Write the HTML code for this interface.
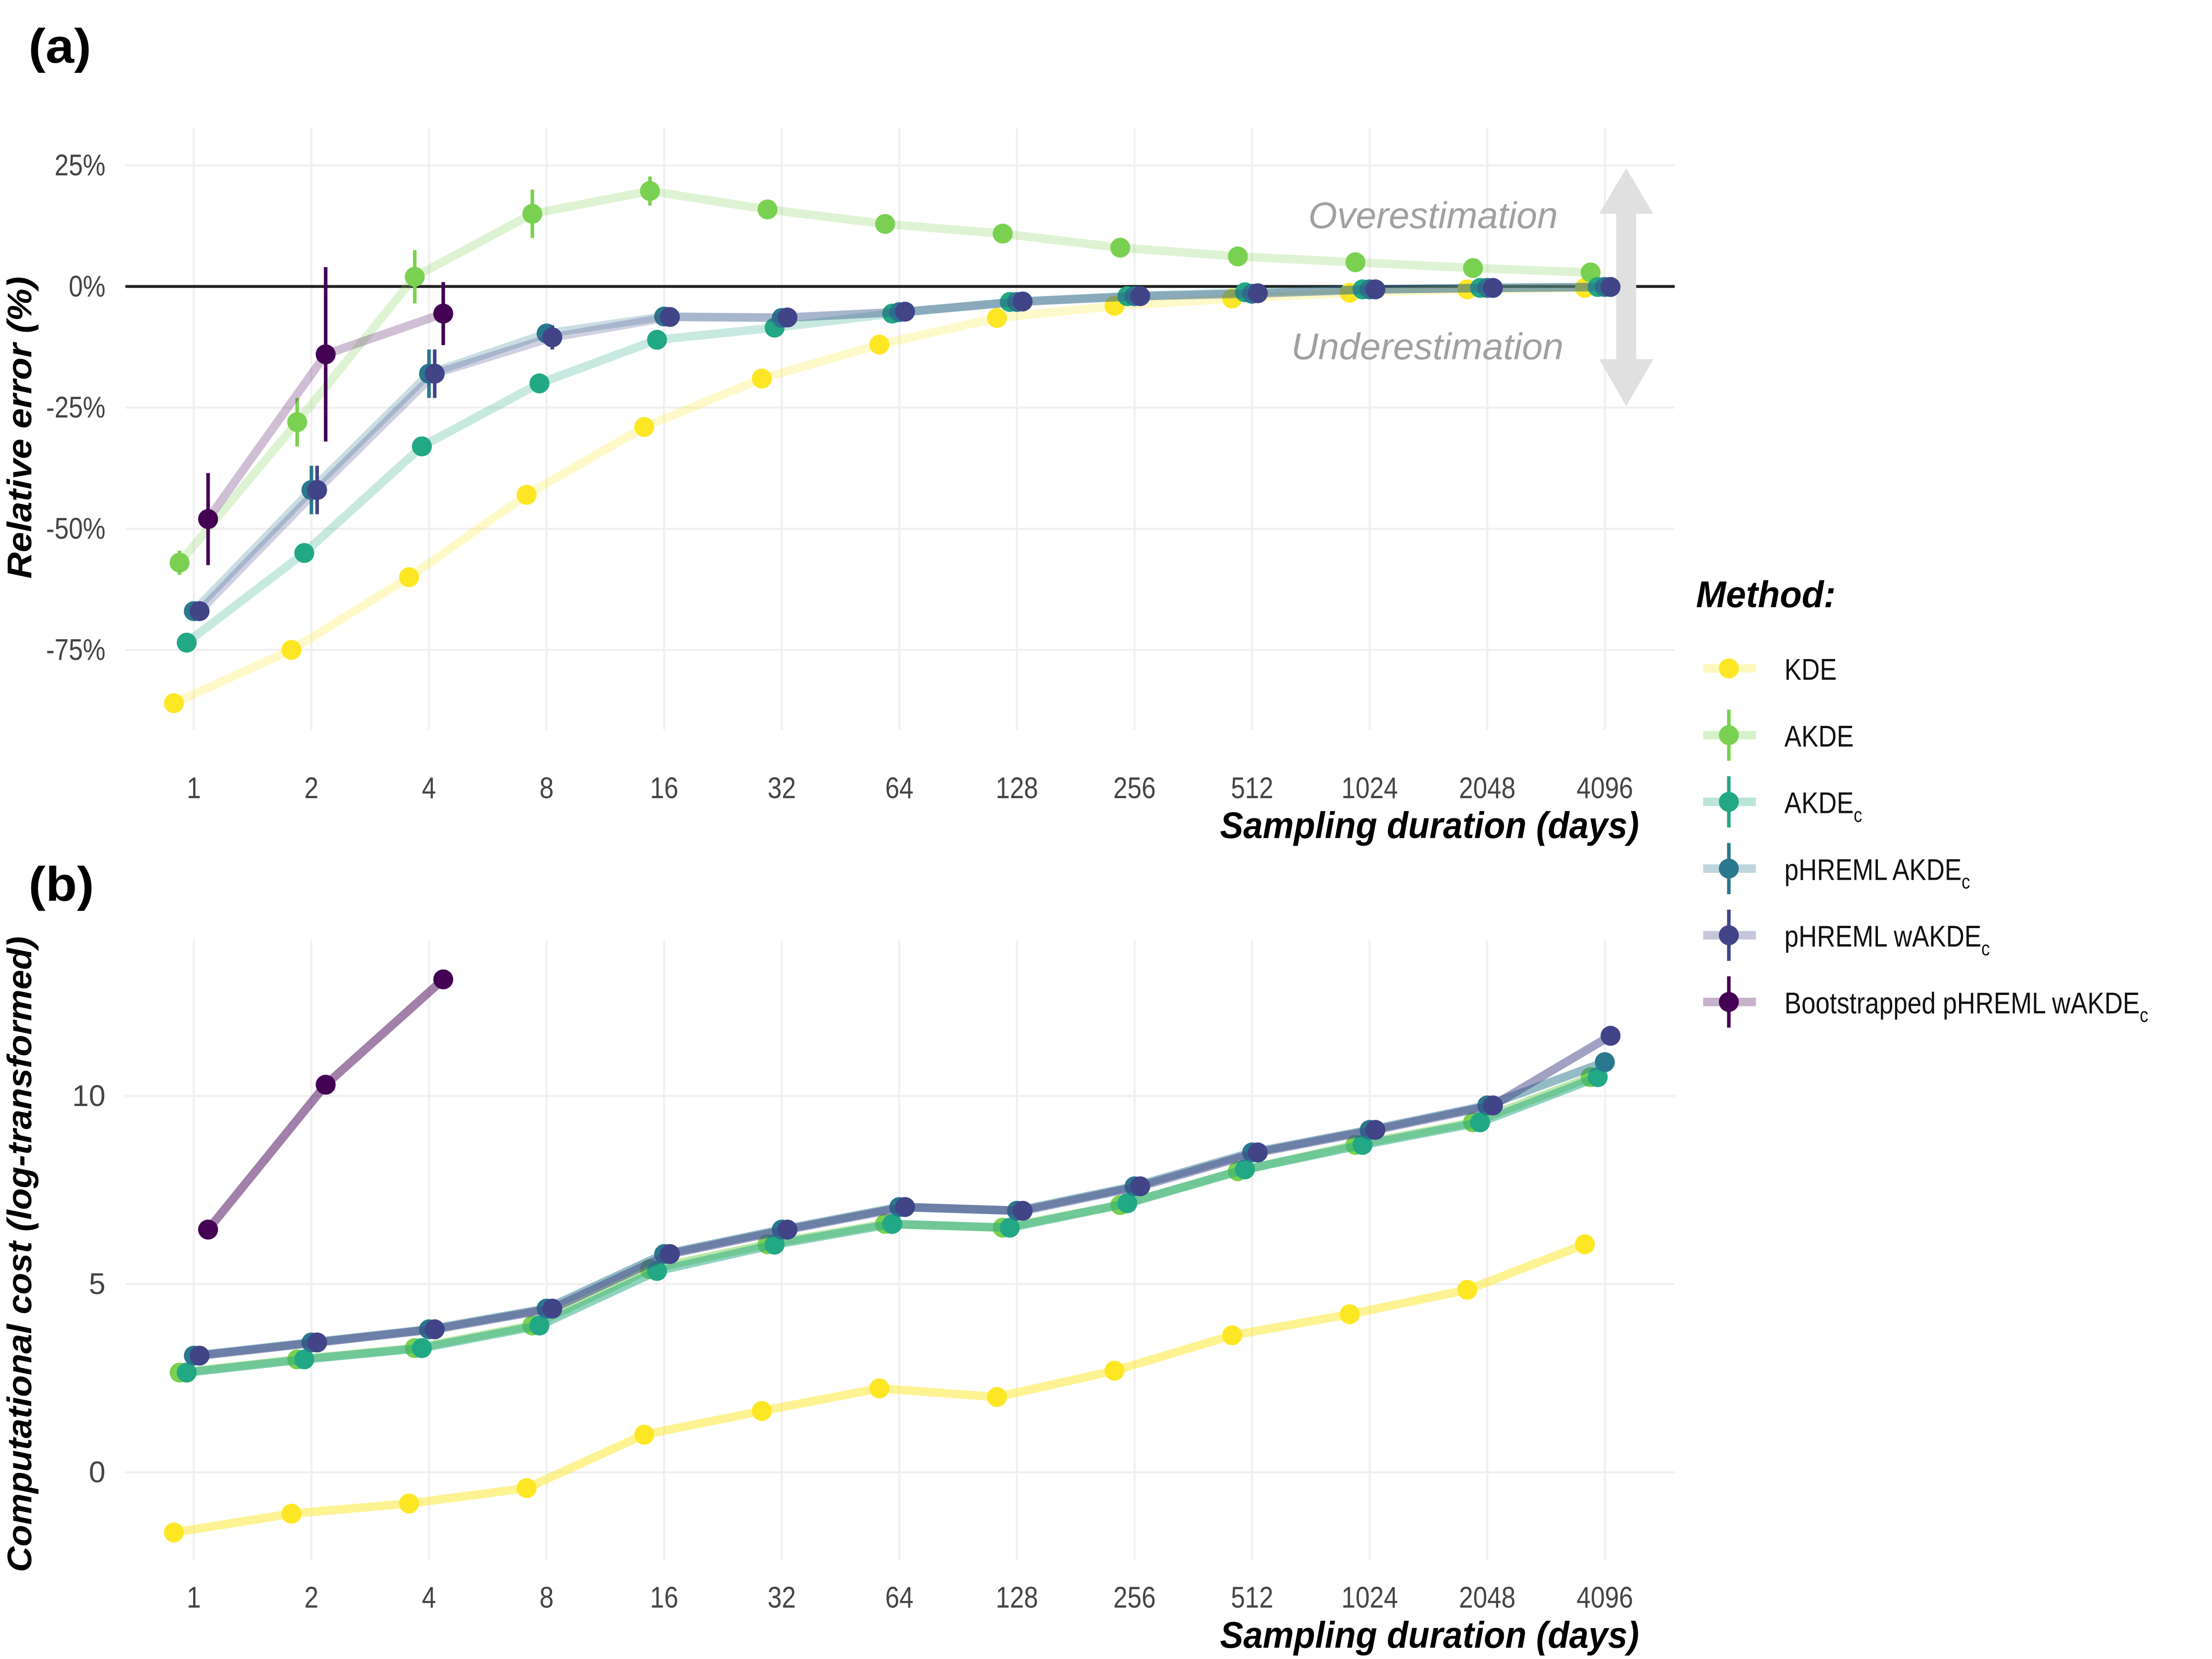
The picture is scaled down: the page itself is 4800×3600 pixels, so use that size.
<!DOCTYPE html>
<html><head><meta charset="utf-8"><style>
html,body{margin:0;padding:0;background:#fff;}
svg{display:block;}
text{font-family:"Liberation Sans",sans-serif;}
</style></head><body>
<svg id="chart" width="4800" height="3600" viewBox="0 0 1552 1164" xmlns="http://www.w3.org/2000/svg">
<rect x="0" y="0" width="1552" height="1164" fill="#fff"/>
<g id="gridA"></g>
<g id="gridB"></g>
<text x="20" y="44" font-size="34" font-weight="bold" textLength="44" lengthAdjust="spacingAndGlyphs">(a)</text>
<text x="20" y="632" font-size="34" font-weight="bold" textLength="46" lengthAdjust="spacingAndGlyphs">(b)</text>
<line x1="88" x2="1175" y1="201" y2="201" stroke="#222" stroke-width="2"/>
<g fill="#e0e0e0">
<rect x="1134" y="140" width="14" height="122"/>
<polygon points="1122,150 1141,118 1160,150"/>
<polygon points="1122,252 1141,285 1160,252"/>
</g>
<text x="1093" y="160" font-size="26" font-style="italic" fill="#a0a0a0" text-anchor="end" textLength="175" lengthAdjust="spacingAndGlyphs">Overestimation</text>
<text x="1097" y="252" font-size="26" font-style="italic" fill="#a0a0a0" text-anchor="end" textLength="191" lengthAdjust="spacingAndGlyphs">Underestimation</text>
<text transform="translate(22,300) rotate(-90)" font-size="24" font-weight="bold" font-style="italic" text-anchor="middle" textLength="212" lengthAdjust="spacingAndGlyphs">Relative error (%)</text>
<text transform="translate(22,880) rotate(-90)" font-size="24" font-weight="bold" font-style="italic" text-anchor="middle" textLength="446" lengthAdjust="spacingAndGlyphs">Computational cost (log-transformed)</text>
<text x="1150" y="588" font-size="26" font-weight="bold" font-style="italic" text-anchor="end" textLength="294" lengthAdjust="spacingAndGlyphs">Sampling duration (days)</text>
<text x="1150" y="1156" font-size="26" font-weight="bold" font-style="italic" text-anchor="end" textLength="294" lengthAdjust="spacingAndGlyphs">Sampling duration (days)</text>
<g id="marksA"></g>
<g id="marksB"></g>
<g id="legend">
<text x="1190" y="426" font-size="26" font-weight="bold" font-style="italic" textLength="98" lengthAdjust="spacingAndGlyphs">Method:</text>
</g>
</svg>
<script>
const days = ["1","2","4","8","16","32","64","128","256","512","1024","2048","4096"];
const methods = ["KDE","AKDE","AKDEc","pHREML AKDEc","pHREML wAKDEc","Bootstrapped pHREML wAKDEc"];
const colors = ["#FDE725","#7AD151","#22A884","#2A788E","#414487","#440154"];
const ticksA = [25,0,-25,-50,-75];
const tickLabelsA = ["25%","0%","-25%","-50%","-75%"];
const ticksB = [0,5,10];
const errKDE = [-86,-75,-60,-43,-29,-19,-12,-6.5,-4,-2.5,-1.3,-0.6,-0.3];
const errAKDE = [-57,-28,2,15,19.7,15.9,12.9,10.9,8,6.2,5,3.8,2.9];
const errAKDEc = [-73.5,-55,-33,-20,-11,-8.5,-5.6,-3.2,-2,-1.2,-0.6,-0.3,-0.1];
const errPAKDEc = [-67,-42,-18,-9.7,-6.2,-6.5,-5.3,-3.2,-2,-1.5,-0.6,-0.3,-0.1];
const errPWAKDEc = [-67,-42,-18,-10.5,-6.3,-6.4,-5.2,-3.1,-2,-1.4,-0.6,-0.3,-0.1];
const errBoot = [-48,-14,-5.6];
const ciAKDE = [2.5,5,5.5,5,3,1.5,1,1,0.8,0.6,0.5,0.4,0.3];
const ciAKDEc = [2,2,2,2,1.5,1,0.8,0.6,0.5,0.4,0.3,0.3,0.2];
const ciPAKDEc = [2,5,5,2,1.5,1,0.8,0.6,0.5,0.4,0.3,0.3,0.2];
const ciPWAKDEc = [2,5,5,2.5,1.5,1,0.8,0.6,0.5,0.4,0.3,0.3,0.2];
const ciBoot = [9.5,18,6.5];
const costKDE = [-1.6,-1.1,-0.83,-0.42,1.0,1.63,2.23,2.0,2.7,3.64,4.2,4.85,6.06];
const costAKDE = [2.65,3.0,3.3,3.9,5.4,6.06,6.6,6.5,7.1,8.0,8.7,9.3,10.5];
const costAKDEc = [2.65,3.0,3.3,3.9,5.35,6.05,6.6,6.5,7.15,8.05,8.7,9.3,10.5];
const costPAKDEc = [3.1,3.45,3.8,4.35,5.8,6.45,7.05,6.95,7.6,8.5,9.1,9.75,10.9];
const costPWAKDEc = [3.1,3.45,3.8,4.35,5.8,6.45,7.05,6.95,7.6,8.5,9.1,9.75,11.6];
const costBoot = [6.45,10.3,13.1];

const NS = "http://www.w3.org/2000/svg";
const dodge = [-14,-10,-5,0,4,10];
function xPos(i){ return 136 + i*82.5; }
function yA(v){ return 201 - v*3.4; }
function yB(v){ return 1033 - v*26.4; }
function mk(tag, attrs, parent){ const e=document.createElementNS(NS,tag); for(const k in attrs) e.setAttribute(k,attrs[k]); parent.appendChild(e); return e; }

const gA=document.getElementById('gridA'), gB=document.getElementById('gridB');
[[gA,90,512],[gB,660,1095]].forEach(([g,y1,y2])=>{
  days.forEach((d,i)=>{
    const l=mk('line',{x1:xPos(i),x2:xPos(i),y1:y1,y2:y2,stroke:'#f0f0f0','stroke-width':1.5},g);
    
    
    const t=mk('text',{x:xPos(i),y:(g===gA?560:1128),'font-size':21,'text-anchor':'middle',fill:'#444',transform:'translate('+xPos(i)+',0) scale(0.85,1) translate('+(-xPos(i))+',0)'},g);
    t.textContent=d;
    
    
  });
});
ticksA.forEach((v,i)=>{
  const l=mk('line',{x1:88,x2:1175,y1:yA(v),y2:yA(v),stroke:'#f0f0f0','stroke-width':1.5},gA);
  
  
  const t=mk('text',{x:74,y:yA(v)+7,'font-size':21,'text-anchor':'end',fill:'#444',transform:'translate(74,0) scale(0.85,1) translate(-74,0)'},gA);
  t.textContent=tickLabelsA[i];
  
  
});
ticksB.forEach(v=>{
  const l=mk('line',{x1:88,x2:1175,y1:yB(v),y2:yB(v),stroke:'#f0f0f0','stroke-width':1.5},gB);
  
  
  const t=mk('text',{x:74,y:yB(v)+7,'font-size':21,'text-anchor':'end',fill:'#444'},gB);
  t.textContent=String(v);
  
  
});

const errSeries=[errKDE,errAKDE,errAKDEc,errPAKDEc,errPWAKDEc,errBoot];
const ciSeries=[null,ciAKDE,ciAKDEc,ciPAKDEc,ciPWAKDEc,ciBoot];
const costSeries=[costKDE,costAKDE,costAKDEc,costPAKDEc,costPWAKDEc,costBoot];
const mA=document.getElementById('marksA'), mB=document.getElementById('marksB');

function drawSeries(parent, vals, m, yf, op, ci){
  const g=mk('g',{},parent);
  
  
  const pts=vals.map((v,i)=>(xPos(i)+dodge[m])+','+yf(v)).join(' ');
  const pl=mk('polyline',{points:pts,fill:'none',stroke:colors[m],'stroke-width':6,'stroke-opacity':op,'stroke-linejoin':'round'},g);
  
  
  vals.forEach((v,i)=>{
    const x=xPos(i)+dodge[m];
    if(ci){
      const e=mk('line',{x1:x,x2:x,y1:yf(v+ci[i]),y2:yf(v-ci[i]),stroke:colors[m],'stroke-width':2.5},g);
      
      
    }
    const c=mk('circle',{cx:x,cy:yf(v),r:7,fill:colors[m]},g);
    
    
  });
}
errSeries.forEach((s,m)=>drawSeries(mA,s,m,yA,0.25,ciSeries[m]));
costSeries.forEach((s,m)=>drawSeries(mB,s,m,yB,0.5,null));

const lg=document.getElementById('legend');
const legendLabels=[["KDE",""],["AKDE",""],["AKDE","c"],["pHREML AKDE","c"],["pHREML wAKDE","c"],["Bootstrapped pHREML wAKDE","c"]];
methods.forEach((m,i)=>{
  const y=469+i*46.8;
  const g=mk('g',{},lg);
  
  
  mk('line',{x1:1195,x2:1232,y1:y,y2:y,stroke:colors[i],'stroke-width':6,'stroke-opacity':0.3},g);
  if(i>0) mk('line',{x1:1213,x2:1213,y1:y-18,y2:y+18,stroke:colors[i],'stroke-width':2.5},g);
  mk('circle',{cx:1213,cy:y,r:7,fill:colors[i]},g);
  const t=mk('text',{x:1252,y:y+8,'font-size':21,fill:'#111',transform:'translate(1252,0) scale(0.85,1) translate(-1252,0)'},g);
  t.textContent=legendLabels[i][0];
  if(legendLabels[i][1]){
    const s=mk('tspan',{'font-size':14,dy:6},t);
    s.textContent=legendLabels[i][1];
  }
});
</script>
</body></html>
